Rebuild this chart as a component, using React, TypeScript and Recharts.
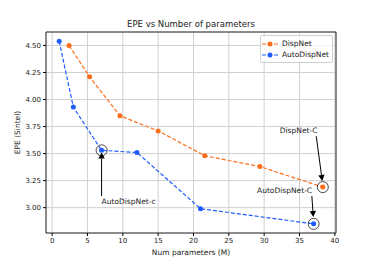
import {
  LineChart,
  Line,
  XAxis,
  YAxis,
  CartesianGrid,
  Legend,
  ReferenceArea,
  ReferenceDot,
  ReferenceLine,
} from "recharts";

const seriesNames = ["DispNet", "AutoDispNet"];
const dispnetParams = [2.4, 5.3, 9.6, 15.0, 21.6, 29.4, 38.3];
const dispnetEpe = [4.5, 4.21, 3.85, 3.71, 3.48, 3.38, 3.19];
const autoParams = [1.0, 3.0, 7.0, 12.0, 21.0, 37.0];
const autoEpe = [4.54, 3.93, 3.53, 3.51, 2.99, 2.85];

const xTicks = [0, 5, 10, 15, 20, 25, 30, 35, 40];
const yTicks = [3.0, 3.25, 3.5, 3.75, 4.0, 4.25, 4.5];

// labelled points: circle at point, arrow from -> to, text at text
const notes = [
  { label: "AutoDispNet-c", point: [7.0, 3.53], text: [7.0, 3.06], anchor: "start", from: [7.0, 3.107], to: [7.0, 3.51] },
  { label: "DispNet-C", point: [38.3, 3.19], text: [34.87, 3.713], anchor: "middle", from: [37.37, 3.661], to: [38.22, 3.247] },
  { label: "AutoDispNet-C", point: [37.0, 2.85], text: [32.89, 3.156], anchor: "middle", from: [36.75, 3.107], to: [36.95, 2.914] },
];

const xDomain = [-0.865, 40.165];
const yDomain = [2.7655, 4.6245];

const font = "DejaVu Sans";
const orange = "#ff6d1a";
const blue = "#1f5cff";

const dispnet = dispnetParams.map((x, i) => ({ x, y: dispnetEpe[i] }));
const autodispnet = autoParams.map((x, i) => ({ x, y: autoEpe[i] }));

const Arrow = (p: any) => {
  const { x1, y1, x2, y2 } = p;
  const dx = x2 - x1;
  const dy = y2 - y1;
  const len = Math.sqrt(dx * dx + dy * dy) || 1;
  const ux = dx / len;
  const uy = dy / len;
  const bx = x2 - ux * 6;
  const by = y2 - uy * 6;
  const pts = `${x2},${y2} ${bx - uy * 3.2},${by + ux * 3.2} ${bx + uy * 3.2},${by - ux * 3.2}`;
  return (
    <g>
      <line x1={x1} y1={y1} x2={bx} y2={by} stroke="#000" strokeWidth={1} />
      <polygon points={pts} fill="#000" />
    </g>
  );
};

const renderLegend = (props: any) => {
  const items = [...(props.payload || [])].sort(
    (a: any, b: any) => seriesNames.indexOf(a.value) - seriesNames.indexOf(b.value)
  );
  return (
    <div
      style={{
        border: "1px solid #d0d0d0",
        borderRadius: 2,
        background: "rgba(255,255,255,0.8)",
        padding: "2px 3px 2px 1px",
        fontFamily: font,
        fontSize: 7.5,
        color: "#222",
      }}
    >
      {items.map((e: any) => (
        <div key={e.value} style={{ display: "flex", alignItems: "center", height: 11 }}>
          <svg width={16} height={8} style={{ marginRight: 4 }}>
            <line x1={0} y1={4} x2={16} y2={4} stroke={e.color} strokeWidth={1.2} strokeDasharray="4 2" />
            <circle cx={8} cy={4} r={2.5} fill={e.color} />
          </svg>
          <span>{e.value}</span>
        </div>
      ))}
    </div>
  );
};

export default function App() {
  return (
    <div style={{ position: "fixed", left: 0, top: 0, width: 374, height: 267, background: "#fff" }}>
      <div
        style={{
          position: "absolute",
          left: 46,
          top: 18,
          width: 290,
          textAlign: "center",
          fontFamily: font,
          fontSize: 8.5,
          lineHeight: "12px",
          color: "#222",
        }}
      >
        EPE vs Number of parameters
      </div>
      <LineChart width={374} height={267} margin={{ top: 32, right: 38, bottom: 0, left: 0 }}>
        <CartesianGrid stroke="#d0d0d0" strokeWidth={1} />
        <XAxis
          type="number"
          dataKey="x"
          domain={xDomain}
          ticks={xTicks}
          allowDataOverflow
          axisLine={false}
          tickSize={3}
          tickMargin={2}
          tickLine={{ stroke: "#000" }}
          height={34}
          tick={{ fontFamily: font, fontSize: 7, fill: "#222" }}
          label={{
            value: "Num parameters (M)",
            position: "insideBottom",
            offset: 12,
            style: { fontFamily: font, fontSize: 7.5, fill: "#222" },
          }}
        />
        <YAxis
          type="number"
          domain={yDomain}
          ticks={yTicks}
          allowDataOverflow
          axisLine={false}
          width={46}
          tickSize={3}
          tickMargin={2}
          tickLine={{ stroke: "#000" }}
          tickFormatter={(v: number) => v.toFixed(2)}
          tick={{ fontFamily: font, fontSize: 7, fill: "#222" }}
          label={{
            value: "EPE (Sintel)",
            angle: -90,
            position: "insideLeft",
            offset: 17,
            style: { fontFamily: font, fontSize: 7.5, fill: "#222", textAnchor: "middle" },
          }}
        />
        <ReferenceArea
          x1={xDomain[0]}
          x2={xDomain[1]}
          y1={yDomain[0]}
          y2={yDomain[1]}
          fill="none"
          stroke="#000"
          strokeWidth={0.8}
          ifOverflow="visible"
        />
        <Legend
          verticalAlign="middle"
          align="center"
          layout="vertical"
          content={renderLegend}
          wrapperStyle={{ top: 35, left: 260, width: 73 }}
        />
        <Line
          name="DispNet"
          data={dispnet}
          dataKey="y"
          stroke={orange}
          strokeWidth={1.2}
          strokeDasharray="4 2"
          dot={{ r: 2.5, fill: orange, stroke: orange, strokeWidth: 0 }}
          isAnimationActive={false}
        />
        <Line
          name="AutoDispNet"
          data={autodispnet}
          dataKey="y"
          stroke={blue}
          strokeWidth={1.2}
          strokeDasharray="4 2"
          dot={{ r: 2.5, fill: blue, stroke: blue, strokeWidth: 0 }}
          isAnimationActive={false}
        />
        {notes.map((n) => (
          <ReferenceDot
            key={n.label + "-c"}
            x={n.point[0]}
            y={n.point[1]}
            r={5.5}
            fill="none"
            stroke="#000"
            strokeWidth={0.7}
            ifOverflow="visible"
          />
        ))}
        {notes.map((n) => (
          <ReferenceLine
            key={n.label + "-a"}
            segment={[
              { x: n.from[0], y: n.from[1] },
              { x: n.to[0], y: n.to[1] },
            ]}
            ifOverflow="visible"
            shape={Arrow}
          />
        ))}
        {notes.map((n) => (
          <ReferenceDot
            key={n.label + "-t"}
            x={n.text[0]}
            y={n.text[1]}
            ifOverflow="visible"
            shape={(p: any) => (
              <text
                x={p.cx}
                y={p.cy}
                dy="0.35em"
                textAnchor={n.anchor}
                fontFamily={font}
                fontSize={7.5}
                fill="#222"
              >
                {n.label}
              </text>
            )}
          />
        ))}
      </LineChart>
    </div>
  );
}
